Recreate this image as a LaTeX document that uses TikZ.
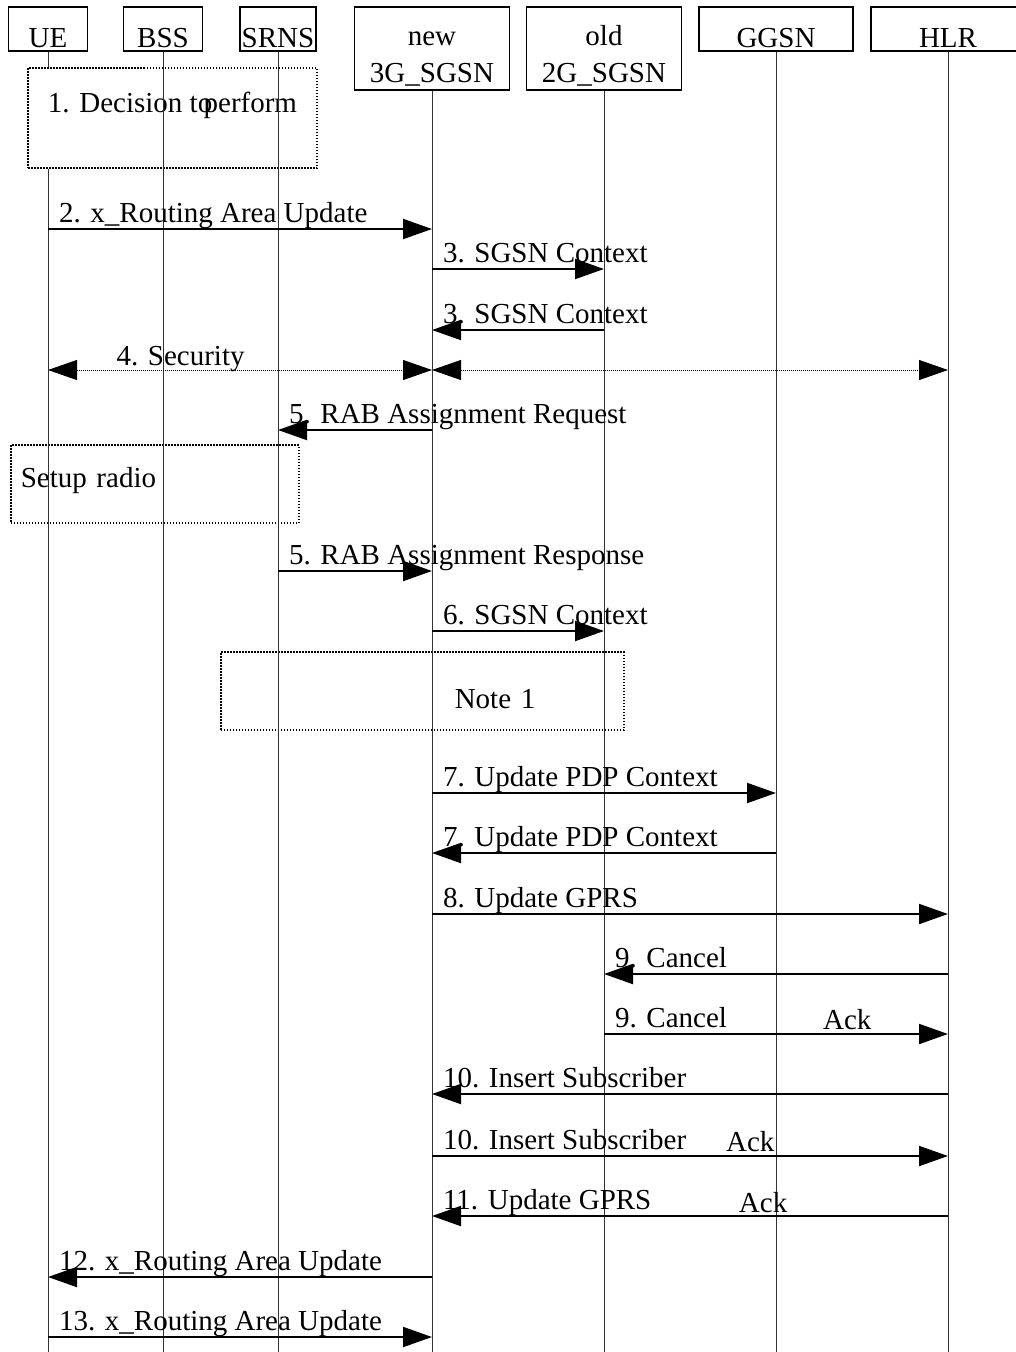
\documentclass[tikz,border=0pt]{standalone}
\usepackage{fontspec}
\setmainfont{Liberation Serif}
\usetikzlibrary{arrows.meta}

\begin{document}
\begin{tikzpicture}[x=1pt, y=-1pt, font=\fontsize{29}{37}\selectfont,
  hdr/.style={draw, line width=1.5pt, inner sep=0pt, text height=40pt, text depth=4pt, anchor=base},
  hdrtwo/.style={draw, line width=1.5pt, inner sep=0pt, text height=75pt, text depth=8pt, anchor=base},
  life/.style={line width=1pt, black!80},
  msg/.style={line width=2pt, -{Triangle[length=29pt, width=20pt]}},
  sec/.style={line width=1pt, dash pattern=on 1pt off 1pt,
    {Triangle[length=29pt, width=20pt]}-{Triangle[length=29pt, width=20pt]}},
  lbl/.style={anchor=base west, inner sep=0pt, xshift=10pt, yshift=7pt},
  ack/.style={anchor=base west, inner sep=0pt, yshift=5pt},
  note/.style={draw, line width=1.5pt, dash pattern=on 1.5pt off 1.5pt, inner sep=0pt}]

\useasboundingbox (0,0) rectangle (1015,1352);
\coordinate (bot) at (0,1352);

% entities
\node[hdr, minimum width=79pt] (ue) at (48,47) {UE};
\node[hdr, minimum width=79pt] (bss) at (163,47) {BSS};
\node[hdr, minimum width=76pt] (srns) at (278,47) {SRNS};
\node[hdrtwo, minimum width=155pt] (new) at (432,82)
  {\begin{tabular}[b]{@{}c@{}}new\\3G\_SGSN\end{tabular}};
\node[hdrtwo, minimum width=155pt] (old) at (604,82)
  {\begin{tabular}[b]{@{}c@{}}old\\2G\_SGSN\end{tabular}};
\node[hdr, minimum width=154pt] (ggsn) at (776,47) {GGSN};
\node[hdr, minimum width=154pt] (hlr) at (948,47) {HLR};

% boxes
\node[note, minimum width=289pt, text height=44pt, text depth=56pt, anchor=base]
  (dec) at (172.5,112) {1. Decision to\kern-0.3em perform};
\node[note, text width=268pt, align=left, inner xsep=10pt, text height=42pt,
  text depth=36pt, anchor=base west] (radio) at (10,487) {Setup radio};
\node[note, text width=403pt, align=left, text height=56pt, text depth=22pt,
  anchor=base west] (note1) at (220,708) {\hspace*{234pt}Note 1};

% lifelines
\draw[life] (ue.south) -- (ue.south |- dec.north);
\draw[life] (ue.south |- dec.south) -- (ue.south |- bot);
\foreach \e in {bss,srns,new,old,ggsn,hlr}
  \draw[life] (\e.south) -- (\e.south |- bot);

% messages
\coordinate (m2) at (0,229);
\draw[msg] (ue |- m2) -- node[lbl, pos=0] {2. x\_Routing Area Update} (new |- m2);
\coordinate (m3a) at (0,269);
\draw[msg] (new |- m3a) -- node[lbl, pos=0] {3. SGSN Context} (old |- m3a);
\coordinate (m3b) at (0,330);
\draw[msg] (old |- m3b) -- node[lbl, pos=1] {3. SGSN Context} (new |- m3b);

\coordinate (m4) at (0,370);
\draw[sec] (ue |- m4) -- node[pos=0, anchor=base west, inner sep=0pt, xshift=68pt, yshift=5pt]
  {4. Security} (new |- m4);
\draw[sec] (new |- m4) -- (hlr |- m4);

\coordinate (m5a) at (0,430);
\draw[msg] (new |- m5a) -- node[lbl, pos=1] {5. RAB Assignment Request} (srns |- m5a);
\coordinate (m5b) at (0,571);
\draw[msg] (srns |- m5b) -- node[lbl, pos=0] {5. RAB Assignment Response} (new |- m5b);
\coordinate (m6) at (0,631);
\draw[msg] (new |- m6) -- node[lbl, pos=0] {6. SGSN Context} (old |- m6);

\coordinate (m7a) at (0,793);
\draw[msg] (new |- m7a) -- node[lbl, pos=0] {7. Update PDP Context} (ggsn |- m7a);
\coordinate (m7b) at (0,853);
\draw[msg] (ggsn |- m7b) -- node[lbl, pos=1] {7. Update PDP Context} (new |- m7b);
\coordinate (m8) at (0,914);
\draw[msg] (new |- m8) -- node[lbl, pos=0] {8. Update GPRS} (hlr |- m8);

\coordinate (m9a) at (0,974);
\draw[msg] (hlr |- m9a) -- node[lbl, pos=1] {9. Cancel} (old |- m9a);
\coordinate (m9b) at (0,1034);
\draw[msg] (old |- m9b) -- node[lbl, pos=0] {9. Cancel}
  node[ack, pos=0.634] {Ack} (hlr |- m9b);

\coordinate (m10a) at (0,1094);
\draw[msg] (hlr |- m10a) -- node[lbl, pos=1] {10. Insert Subscriber} (new |- m10a);
\coordinate (m10b) at (0,1156);
\draw[msg] (new |- m10b) -- node[lbl, pos=0] {10. Insert Subscriber}
  node[ack, pos=0.568] {Ack} (hlr |- m10b);
\coordinate (m11) at (0,1216);
\draw[msg] (hlr |- m11) -- node[lbl, pos=1] {11. Update GPRS}
  node[ack, pos=0.407, yshift=-1pt] {Ack} (new |- m11);

\coordinate (m12) at (0,1277);
\draw[msg] (new |- m12) -- node[lbl, pos=1] {12. x\_Routing Area Update} (ue |- m12);
\coordinate (m13) at (0,1337);
\draw[msg] (ue |- m13) -- node[lbl, pos=0] {13. x\_Routing Area Update} (new |- m13);
\end{tikzpicture}
\end{document}
